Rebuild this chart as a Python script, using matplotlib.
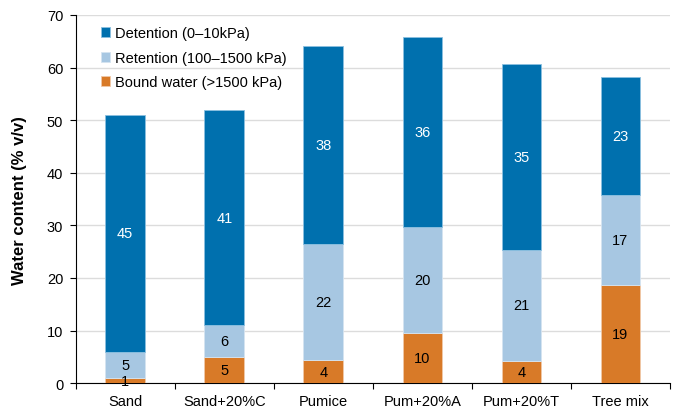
import matplotlib.pyplot as plt
import numpy as np

plt.rcParams['font.family'] = ['Liberation Sans', 'DejaVu Sans']

mixes = ["Sand", "Sand+20%C", "Pumice", "Pum+20%A", "Pum+20%T", "Tree mix"]
bound = [0.9, 4.9, 4.4, 9.6, 4.3, 18.6]
retention = [5.1, 6.1, 22.1, 20.0, 21.1, 17.1]
detention = [45.0, 40.9, 37.6, 36.3, 35.2, 22.6]

c_det = '#0070ae'
c_ret = '#a7c7e2'
c_bnd = '#d87a28'

fig = plt.figure(figsize=(6.76, 4.1), dpi=100)
ax = fig.add_axes([0.112, 0.063, 0.879, 0.898])

x = np.arange(len(mixes))
w = 0.4
b1 = ax.bar(x, bound, w, color=c_bnd, edgecolor='#f0c9a8', linewidth=0.6, label='Bound water (>1500 kPa)', zorder=3)
b2 = ax.bar(x, retention, w, bottom=bound, color=c_ret, edgecolor='#d5e4f1', linewidth=0.6, label='Retention (100\u20131500 kPa)', zorder=3)
bot = np.array(bound) + np.array(retention)
b3 = ax.bar(x, detention, w, bottom=bot, color=c_det, edgecolor='#8cc0e0', linewidth=0.6, label='Detention (0\u201310kPa)', zorder=3)

for bars, vals, col in [(b1, bound, 'black'), (b2, retention, 'black'), (b3, detention, 'white')]:
    ax.bar_label(bars, labels=[f"{round(v):d}" for v in vals], label_type='center', color=col, fontsize=10.5)

ax.set_xlim(-0.5, len(mixes) - 0.5)
ax.set_ylim(0, 70)
ax.set_yticks(range(0, 71, 10))
ax.set_xticks(x)
ax.set_xticklabels(mixes, fontsize=10.5)
ax.tick_params(axis='y', labelsize=10.5, length=4, width=0.8, pad=5)
ax.set_xticks(np.arange(-0.5, len(mixes), 1), minor=True)
ax.tick_params(axis='x', which='major', length=0, pad=8)
ax.tick_params(axis='x', which='minor', length=4, width=0.8)
ax.grid(axis='y', color='#dcdcdc', linewidth=1, zorder=0)
for s in ['top', 'right']:
    ax.spines[s].set_visible(False)
ax.set_ylabel('Water content (% v/v)', fontsize=12, fontweight='bold', labelpad=14)

h, l = ax.get_legend_handles_labels()
ax.legend(h[::-1], l[::-1], loc='upper left', frameon=False, fontsize=10.5,
          handlelength=0.65, handleheight=0.65, handletextpad=0.35, labelspacing=0.72,
          bbox_to_anchor=(0.02, 1.005))

fig.savefig('out.png', dpi=100)
